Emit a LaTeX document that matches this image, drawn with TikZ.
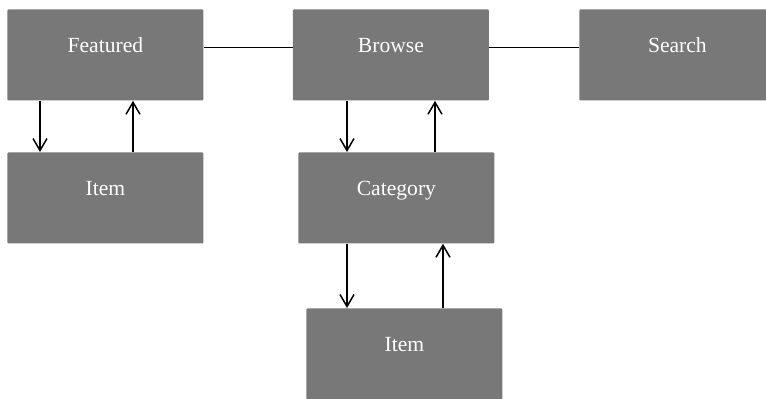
\documentclass[tikz,border=0pt]{standalone}
\usepackage{fontspec}
\setmainfont{Liberation Serif}
\usetikzlibrary{arrows.meta,positioning}

\definecolor{boxgray}{HTML}{787878}

\tikzset{
    box/.style={fill=boxgray, draw=none, rounded corners=0.5pt, anchor=north west,
        minimum width=98pt, inner sep=0pt, text height=21.5pt, text depth=24pt,
        text=white, font=\fontsize{10.8}{12}\selectfont},
    arr/.style={-{Straight Barb[length=6pt,width=7pt]}, line width=0.75pt},
    link/.style={line width=0.7pt}
}

\begin{document}
\begin{tikzpicture}[x=0.5pt,y=-0.5pt]
    % 页面范围
    \useasboundingbox (0,0) rectangle (766,398);

    % 方框
    \node[box] (feat) at (7,9) {Featured};
    \node[box] (browse) at (292.5,9) {Browse};
    \node[box] (search) at (579,9) {Search};
    \node[box] (item1) at (7,152) {Item};
    \node[box] (cat) at (298,152) {Category};
    \node[box] (item2) at (306,308) {Item};

    % 横线
    \draw[link] ([yshift=3.75pt]feat.east) -- ([yshift=3.75pt]browse.west);
    \draw[link] ([yshift=3.75pt]browse.east) -- ([yshift=3.75pt]search.west);

    % 箭头
    \draw[arr] ([xshift=16.5pt]feat.south west) -- ([xshift=16.5pt]item1.north west);
    \draw[arr] ([xshift=63pt]item1.north west) -- ([xshift=63pt]feat.south west);
    \draw[arr] ([xshift=27.25pt]browse.south west) -- ([xshift=24.5pt]cat.north west);
    \draw[arr] ([xshift=68.5pt]cat.north west) -- ([xshift=71.25pt]browse.south west);
    \draw[arr] ([xshift=24.5pt]cat.south west) -- ([xshift=20.5pt]item2.north west);
    \draw[arr] ([xshift=68.5pt]item2.north west) -- ([xshift=72.5pt]cat.south west);
\end{tikzpicture}
\end{document}
